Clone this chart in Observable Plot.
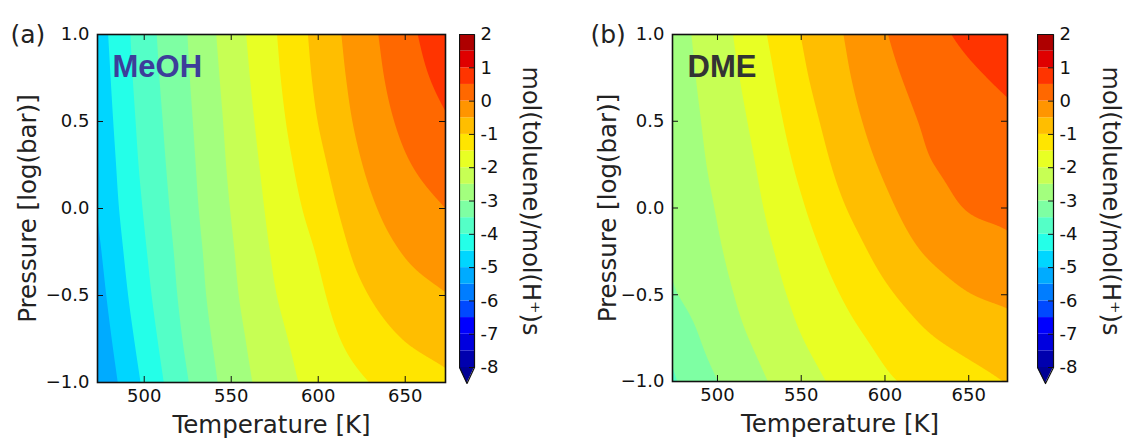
<!DOCTYPE html>
<html><head><meta charset="utf-8">
<script src="https://cdn.jsdelivr.net/npm/d3@7"></script>
<script src="https://cdn.jsdelivr.net/npm/@observablehq/plot@0.6"></script>
<style>
body{margin:0;background:#fff;}
#fig{position:relative;width:1124px;height:439px;overflow:hidden;background:#fff;}
#fig > svg{position:absolute;top:0;}
</style></head><body><div id="fig"></div>
<script>
// ---- data ----
const temperatures = [473.15, 498.15, 523.15, 548.15, 573.15, 598.15, 623.15, 648.15, 673.15];
const pressures = [1, 0.75, 0.5, 0.25, 0, -0.25, -0.5, -0.75, -1];
// rows follow pressures, columns follow temperatures; log10 mol(toluene)/mol(H+)s
const meoh = [
  [-4.74, -3.78, -3.05, -2.30, -1.59, -0.89, -0.26, 0.30, 0.85],
  [-4.80, -3.83, -3.09, -2.36, -1.65, -0.95, -0.33, 0.21, 0.66],
  [-4.86, -3.89, -3.14, -2.42, -1.73, -1.04, -0.42, 0.08, 0.45],
  [-4.93, -3.95, -3.19, -2.47, -1.82, -1.18, -0.55, -0.08, 0.23],
  [-4.98, -4.03, -3.24, -2.53, -1.90, -1.33, -0.71, -0.27, 0.00],
  [-5.09, -4.12, -3.31, -2.60, -1.98, -1.50, -0.89, -0.49, -0.25],
  [-5.20, -4.22, -3.37, -2.66, -2.06, -1.63, -1.10, -0.73, -0.52],
  [-5.32, -4.35, -3.46, -2.75, -2.17, -1.75, -1.33, -1.00, -0.80],
  [-5.45, -4.49, -3.58, -2.84, -2.27, -1.86, -1.57, -1.30, -1.10]
];
const dme = [
  [-2.69, -2.25, -1.66, -1.03, -0.54, -0.06, 0.30, 0.59, 0.80],
  [-2.74, -2.30, -1.78, -1.14, -0.63, -0.17, 0.16, 0.40, 0.59],
  [-2.79, -2.36, -1.89, -1.28, -0.75, -0.30, 0.04, 0.25, 0.40],
  [-2.84, -2.42, -1.99, -1.43, -0.89, -0.45, -0.06, 0.12, 0.24],
  [-2.89, -2.50, -2.08, -1.59, -1.07, -0.64, -0.24, 0.01, 0.09],
  [-2.96, -2.58, -2.18, -1.75, -1.29, -0.86, -0.48, -0.24, -0.10],
  [-3.05, -2.68, -2.29, -1.89, -1.50, -1.11, -0.78, -0.53, -0.40],
  [-3.37, -2.82, -2.43, -2.04, -1.70, -1.38, -1.07, -0.86, -0.71],
  [-3.56, -3.04, -2.61, -2.23, -1.89, -1.59, -1.37, -1.17, -0.98]
];
const levels = [-8, -7.5, -7, -6.5, -6, -5.5, -5, -4.5, -4, -3.5, -3, -2.5, -2, -1.5, -1, -0.5, 0, 0.5, 1, 1.5, 2];
const xTicks = [500, 550, 600, 650];
const yTicks = [-1, -0.5, 0, 0.5, 1];
const cbarTicks = [-8, -7, -6, -5, -4, -3, -2, -1, 0, 1, 2];
const panelLabels = ["(a)", "(b)"];
const panelNames = ["MeOH", "DME"];
const xLabel = "Temperature [K]";
const yLabel = "Pressure [log(bar)]";
const cbarLabel = "mol(toluene)/mol(H\u207A)s";

// ---- "jet" colormap, with the slightly lifted tones of the printed figure ----
function jet(t) {
  const seg = pts => {
    for (let i = 1; i < pts.length; i++) if (t <= pts[i][0]) {
      const [x0, y0] = pts[i - 1], [x1, y1] = pts[i];
      return y0 + (y1 - y0) * (t - x0) / (x1 - x0);
    }
    return pts[pts.length - 1][1];
  };
  const lift = c => 255 * Math.pow(c, 0.78);
  const r = seg([[0, 0], [0.35, 0], [0.66, 1], [0.89, 1], [1, 0.5]]);
  const g = seg([[0, 0], [0.125, 0], [0.375, 1], [0.64, 1], [0.91, 0], [1, 0]]);
  const b = seg([[0, 0.5], [0.11, 1], [0.34, 1], [0.65, 0], [1, 0]]);
  return d3.rgb(lift(r), lift(g), lift(b)).formatHex();
}
const lo = levels[0], hi = levels[levels.length - 1];
const bands = levels.slice(0, -1).map((l, i) => ({lo: l, hi: levels[i + 1]}));
const bandColors = bands.map(b => jet(((b.lo + b.hi) / 2 - lo) / (hi - lo)));
const underColor = jet(0);
const colorScale = {type: "threshold", domain: levels.slice(1, -1), range: bandColors};

// smooth (Catmull-Rom bicubic) interpolation of the regular value grid for Plot.contour
function bicubic(index, w, h, X, Y, V) {
  const key = v => Math.round(v * 1e4) / 1e4;
  const ux = [...new Set(Array.from(index, i => key(X[i])))].sort((a, b) => a - b);
  const uy = [...new Set(Array.from(index, i => key(Y[i])))].sort((a, b) => a - b);
  const nx = ux.length, ny = uy.length;
  const P = Array.from({length: ny + 2}, () => new Float64Array(nx + 2));
  for (const i of index) P[uy.indexOf(key(Y[i])) + 1][ux.indexOf(key(X[i])) + 1] = V[i];
  for (let c = 1; c <= nx; c++) {
    P[0][c] = 2 * P[1][c] - P[2][c];
    P[ny + 1][c] = 2 * P[ny][c] - P[ny - 1][c];
  }
  for (let r = 0; r < ny + 2; r++) {
    P[r][0] = 2 * P[r][1] - P[r][2];
    P[r][nx + 1] = 2 * P[r][nx] - P[r][nx - 1];
  }
  const cr = (p0, p1, p2, p3, t) => p1 + 0.5 * t * (p2 - p0 + t * (2 * p0 - 5 * p1 + 4 * p2 - p3 + t * (3 * (p1 - p2) + p3 - p0)));
  const sx = (ux[nx - 1] - ux[0]) / (nx - 1), sy = (uy[ny - 1] - uy[0]) / (ny - 1);
  const out = new Float64Array(w * h);
  for (let y = 0, k = 0; y < h; y++) {
    const v = Math.max(0, Math.min(ny - 1, (y + 0.5 - uy[0]) / sy));
    const j = Math.min(Math.floor(v), ny - 2), ty = v - j;
    for (let x = 0; x < w; x++, k++) {
      const u = Math.max(0, Math.min(nx - 1, (x + 0.5 - ux[0]) / sx));
      const i = Math.min(Math.floor(u), nx - 2), tx = u - i;
      const rows = [0, 1, 2, 3].map(d => {
        const R = P[j + d];
        return cr(R[i], R[i + 1], R[i + 2], R[i + 3], tx);
      });
      out[k] = cr(rows[0], rows[1], rows[2], rows[3], ty);
    }
  }
  return out;
}

const H = 439, MT = 34;
const font = "DejaVu Sans, sans-serif";

function panel(values, idx, {width, marginLeft, marginRight, marginBottom, ylabDx}) {
  const pts = [];
  pressures.forEach((p, i) => temperatures.forEach((t, j) => pts.push({T: t, P: p, v: values[i][j]})));
  const fw = width - marginLeft - marginRight, fh = H - MT - marginBottom;
  return Plot.plot({
    width, height: H, marginLeft, marginRight, marginTop: MT, marginBottom,
    style: {fontFamily: font, background: "transparent", color: "#111"},
    x: {domain: [temperatures[0], temperatures[temperatures.length - 1]], axis: null},
    y: {domain: [pressures[pressures.length - 1], pressures[0]], axis: null},
    color: colorScale,
    marks: [
      Plot.contour(pts, {x: "T", y: "P", fill: "v", thresholds: levels, interpolate: bicubic, pixelSize: 1, stroke: "none"}),
      Plot.tickX(xTicks, {x: d => d, insetTop: fh - 6, stroke: "#111"}),
      Plot.tickX(xTicks, {x: d => d, insetBottom: fh - 6, stroke: "#111"}),
      Plot.tickY(yTicks, {y: d => d, insetRight: fw - 6, stroke: "#111"}),
      Plot.tickY(yTicks, {y: d => d, insetLeft: fw - 6, stroke: "#111"}),
      Plot.frame({stroke: "#111", strokeWidth: 1.6}),
      Plot.axisX({ticks: xTicks, tickSize: 0, tickPadding: 7, fontSize: 18, label: null, tickFormat: d3.format("d")}),
      Plot.axisY({ticks: yTicks, tickSize: 0, tickPadding: 8, fontSize: 18, label: null, tickFormat: d3.format(".1f")}),
      Plot.text([xLabel], {frameAnchor: "bottom", dy: 43, fontSize: 24.5, textAnchor: "middle", lineAnchor: "middle", fill: "#222"}),
      Plot.text([yLabel], {frameAnchor: "left", dx: ylabDx, rotate: -90, fontSize: 24.5, textAnchor: "middle", lineAnchor: "middle", fill: "#222"}),
      Plot.text([panelLabels[idx]], {frameAnchor: "top-left", dx: -(marginLeft - 10), dy: 0, textAnchor: "start", lineAnchor: "middle", fontSize: 25, fill: "#222"}),
      Plot.text([panelNames[idx]], {frameAnchor: "top-left", dx: 15, dy: 33, textAnchor: "start", lineAnchor: "middle",
        fontSize: 31, fontWeight: "bold", fontFamily: "Liberation Sans, Arial, sans-serif",
        fill: idx === 0 ? "#3d3d9a" : "#333333"})
    ]
  });
}

function colorbar(barWidth, titleDx) {
  const ext = 0.48;
  const outline = [
    {x: 0, y: hi}, {x: 1, y: hi}, {x: 1, y: lo}, {x: 0.5, y: lo - ext}, {x: 0, y: lo}, {x: 0, y: hi}
  ];
  const tri = [{x: 0, a: lo, b: lo}, {x: 0.5, a: lo - ext, b: lo}, {x: 1, a: lo, b: lo}];
  const mr = 87 - barWidth;
  return Plot.plot({
    width: barWidth + mr, height: H, marginLeft: 0, marginRight: mr, marginTop: MT, marginBottom: H - 383,
    style: {fontFamily: font, background: "transparent", color: "#111"},
    x: {domain: [0, 1], axis: null},
    y: {domain: [lo - ext, hi], axis: null},
    color: colorScale,
    marks: [
      Plot.rect(bands, {x1: 0, x2: 1, y1: "lo", y2: "hi", fill: "lo"}),
      Plot.areaY(tri, {x: "x", y1: "a", y2: "b", fill: underColor}),
      Plot.tickY(cbarTicks, {y: d => d, insetLeft: barWidth - 5, stroke: "#111"}),
      Plot.line(outline, {x: "x", y: "y", stroke: "#111", strokeWidth: 1.2}),
      Plot.axisY({anchor: "right", ticks: cbarTicks, tickSize: 0, tickPadding: 6, fontSize: 18, label: null, tickFormat: d => `${d}`}),
      Plot.text([cbarLabel], {x: 1, y: (lo + hi) / 2, dx: titleDx, rotate: 90, fontSize: 24, textAnchor: "middle", lineAnchor: "middle", fill: "#222"})
    ]
  });
}

const fig = document.getElementById("fig");
const pa = panel(meoh, 0, {width: 460, marginLeft: 97, marginRight: 15, marginBottom: 57, ylabDx: -69});
pa.style.left = "0px";
const ca = colorbar(15, 56);
ca.style.left = "459px";
const pb = panel(dme, 1, {width: 447, marginLeft: 92, marginRight: 20, marginBottom: 58, ylabDx: -64});
pb.style.left = "580px";
const cb = colorbar(16, 57);
cb.style.left = "1037px";
fig.append(pa, ca, pb, cb);
</script></body></html>
